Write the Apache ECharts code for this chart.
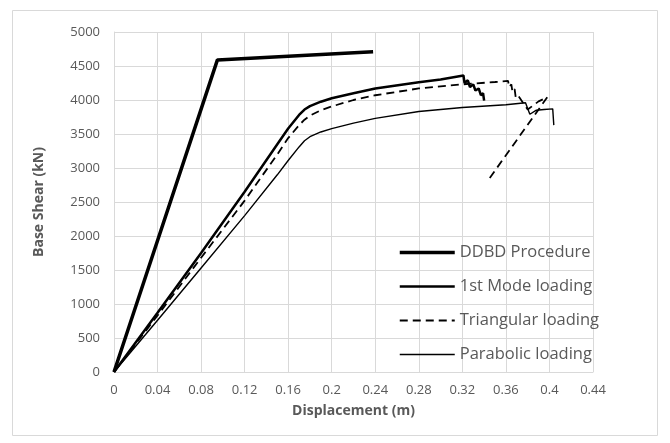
<!DOCTYPE html>
<html>
<head>
<meta charset="utf-8">
<script src="https://cdn.jsdelivr.net/npm/echarts@6/dist/echarts.min.js"></script>
<style>
  html, body { margin: 0; padding: 0; background: #fff; }
  #chart { width: 670px; height: 443px; }
</style>
</head>
<body>
<div id="chart"></div>
<script>
// Pushover curves: displacement (m) vs base shear (kN)
const ddbd = [[0, 0], [0.095, 4590], [0.238, 4710]];

const firstMode = [
  [0, 0], [0.04, 870], [0.08, 1750], [0.12, 2650], [0.15, 3350], [0.16, 3580],
  [0.17, 3780], [0.175, 3860], [0.18, 3910], [0.19, 3975], [0.2, 4025], [0.22, 4100],
  [0.24, 4170], [0.28, 4260], [0.3, 4300], [0.321, 4360],
  [0.322, 4250], [0.325, 4290], [0.327, 4190], [0.33, 4230], [0.332, 4140],
  [0.335, 4170], [0.337, 4070], [0.339, 4100], [0.34, 3990]
];

const triangular = [
  [0, 0], [0.04, 830], [0.08, 1680], [0.12, 2520], [0.15, 3200], [0.16, 3440],
  [0.17, 3630], [0.175, 3710], [0.18, 3770], [0.19, 3850], [0.2, 3905], [0.22, 4000],
  [0.24, 4070], [0.28, 4170], [0.32, 4230], [0.35, 4265], [0.362, 4280],
  [0.363, 4190], [0.365, 4230], [0.366, 4120], [0.368, 4160],
  [0.369, 4040], [0.371, 4070], [0.38, 3860], [0.39, 3980], [0.398, 4040], [0.345, 2850]
];

const parabolic = [
  [0, 0], [0.04, 760], [0.08, 1530], [0.12, 2300], [0.15, 2900], [0.16, 3110],
  [0.17, 3310], [0.175, 3400], [0.18, 3460], [0.19, 3530], [0.2, 3580], [0.22, 3660],
  [0.24, 3730], [0.28, 3830], [0.32, 3890], [0.36, 3930],
  [0.378, 3960], [0.382, 3790], [0.388, 3850], [0.395, 3860], [0.403, 3870], [0.404, 3630]
];

const seriesNames = ['DDBD Procedure', '1st Mode loading', 'Triangular loading', 'Parabolic loading'];
const lineWidths = [3.5, 2.5, 1.8, 1.4];
const lineTypes = ['solid', 'solid', [8, 5], 'solid'];

const FONT = 'Open Sans';
const GREY = '#595959';
const GRID = '#d9d9d9';

const chart = echarts.init(document.getElementById('chart'), null, { renderer: 'canvas' });

function lineSeries(i, data) {
  return {
    name: seriesNames[i],
    type: 'line',
    data: data,
    symbol: 'none',
    showSymbol: false,
    smooth: false,
    animation: false,
    lineStyle: { color: '#000', width: lineWidths[i], type: lineTypes[i] },
    itemStyle: { color: '#000' }
  };
}

chart.setOption({
  backgroundColor: '#fff',
  animation: false,
  graphic: [{
    type: 'rect',
    shape: { x: 12.5, y: 10.5, width: 645, height: 425 },
    style: { fill: 'none', stroke: GRID, lineWidth: 1 },
    silent: true
  }],
  grid: { left: 114, right: 77, top: 32, bottom: 71 },
  xAxis: {
    type: 'value',
    min: 0, max: 0.44, interval: 0.04,
    name: 'Displacement (m)',
    nameLocation: 'middle',
    nameGap: 32,
    nameTextStyle: { fontFamily: FONT, fontSize: 14, fontWeight: 'bold', color: GREY },
    axisLine: { lineStyle: { color: GRID } },
    axisTick: { show: false },
    axisLabel: {
      fontFamily: FONT, fontSize: 13, color: GREY, margin: 12,
      formatter: v => String(+v.toFixed(2))
    },
    splitLine: { show: true, lineStyle: { color: GRID } }
  },
  yAxis: {
    type: 'value',
    min: 0, max: 5000, interval: 500,
    name: 'Base Shear (kN)',
    nameLocation: 'middle',
    nameGap: 68,
    nameTextStyle: { fontFamily: FONT, fontSize: 14, fontWeight: 'bold', color: GREY },
    axisLine: { show: true, lineStyle: { color: GRID } },
    axisTick: { show: false },
    axisLabel: { fontFamily: FONT, fontSize: 13, color: GREY, margin: 14, formatter: v => String(v) },
    splitLine: { show: true, lineStyle: { color: GRID } }
  },
  legend: {
    data: seriesNames.map((n, i) => ({
      name: n,
      itemStyle: { opacity: 0 },
      lineStyle: { width: lineWidths[i], type: lineTypes[i], color: '#000' }
    })),
    orient: 'vertical',
    left: 393,
    top: 239,
    itemWidth: 55,
    itemHeight: 17,
    itemGap: 17,
    itemStyle: { opacity: 0 },
    textStyle: { fontFamily: FONT, fontSize: 16.5, color: GREY }
  },
  series: [
    lineSeries(0, ddbd),
    lineSeries(1, firstMode),
    lineSeries(2, triangular),
    lineSeries(3, parabolic)
  ]
});
</script>
</body>
</html>
